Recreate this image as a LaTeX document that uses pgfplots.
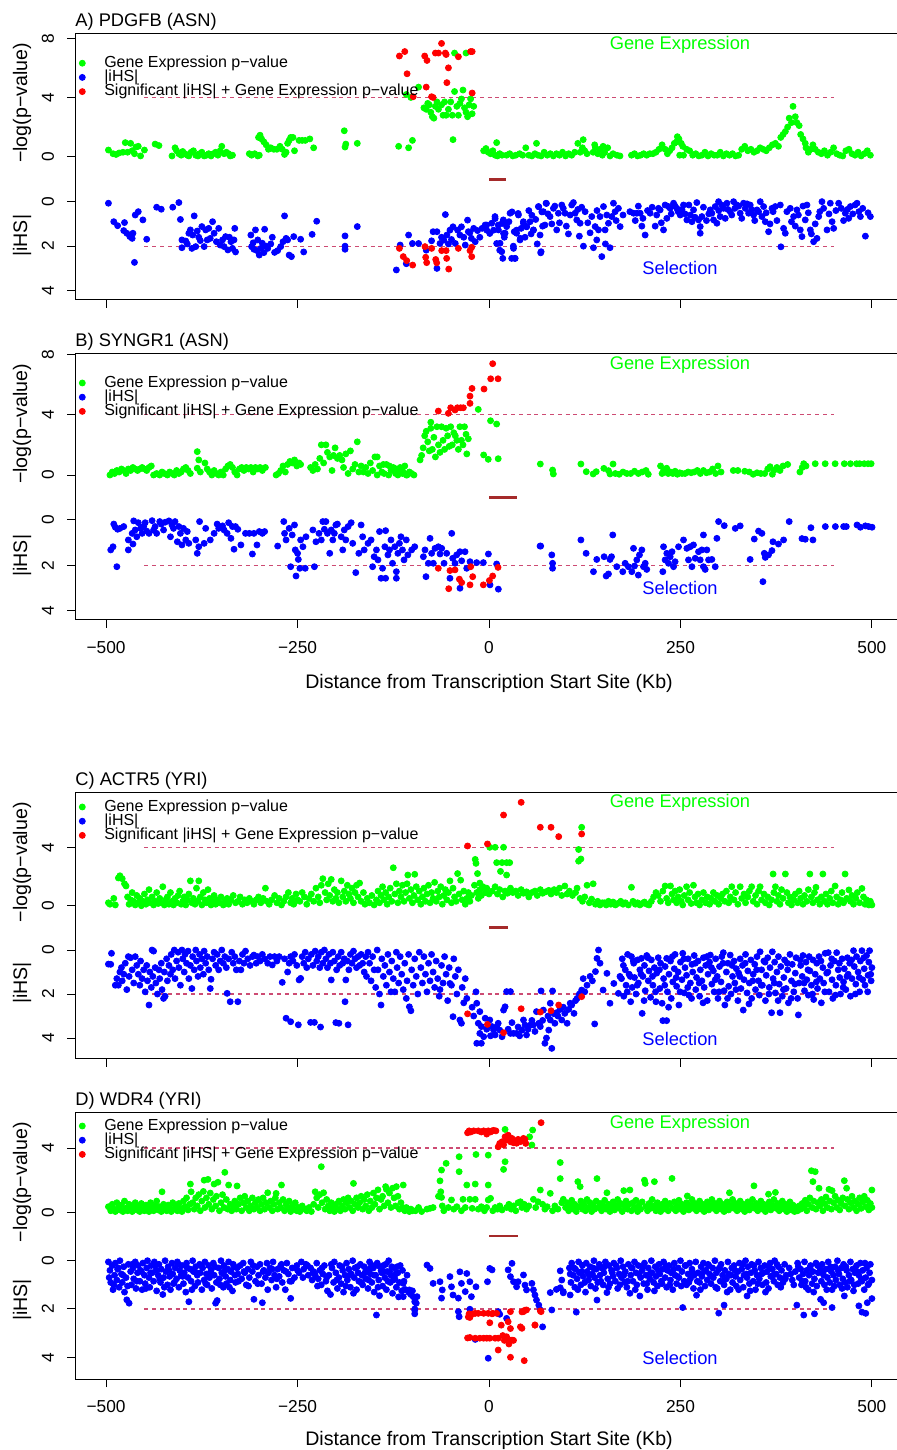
\documentclass[border=0pt]{standalone}
\usepackage{fontspec}
\setmainfont{Liberation Sans}
\usepackage{pgfplots}
\pgfplotsset{compat=1.18}
\definecolor{gexp}{RGB}{0,255,0}
\definecolor{ihs}{RGB}{0,0,255}
\definecolor{sig}{RGB}{255,0,0}
\definecolor{thr}{RGB}{205,75,115}
\definecolor{gene}{RGB}{165,42,42}
\newcommand{\fs}[1]{\fontsize{#1}{#1}\selectfont}
\pgfplotsset{
  panel/.style={scale only axis, width=413.5pt,
    xmin=-540, xmax=540, axis line style={line width=0.5pt, black},
    tick style={line width=0.5pt, black}, major tick length=4pt, tick align=outside,
    xtick={-500,-250,0,250,500}, xtick pos=bottom, ytick pos=left,
    minor tick num=0, clip=true,
    tick label style={font=\fs{8.65pt}},
    xticklabels={},
    yticklabel style={xshift=-6.75pt, rotate=90, anchor=base, inner sep=0pt},
    xticklabel style={anchor=base, inner sep=0pt, yshift=-12.65pt},
    legend image code/.code={\path[draw=none,fill=none] (0pt,-1pt) rectangle (11pt,1pt); \draw[mark repeat=2,mark phase=2,##1] plot coordinates {(0pt,0pt) (5.5pt,0pt) (11pt,0pt)};},
    legend cell align=left,
  },
  up/.style={panel, ytick={0,4,8}, yticklabels={0,4,8}},
  lo/.style={panel, y dir=reverse, ytick={0,2,4}, yticklabels={0,2,4}},
  withx/.style={xticklabels={−500,−250,0,250,500}},
  leg/.style={legend style={at={(rel axis cs:0,1)}, anchor=north west, xshift=-2.1pt, yshift=#1,
    draw=none, fill=none, inner sep=0pt, outer sep=0pt, column sep=5.5pt, row sep=0pt,
    font=\fs{8pt}, nodes={inner sep=0pt, text height=5.7pt, text depth=1.4pt}}},
  gpts/.style={only marks, mark=*, mark size=1.5pt, color=gexp, forget plot},
  bpts/.style={only marks, mark=*, mark size=1.5pt, color=ihs, forget plot},
  rpts/.style={only marks, mark=*, mark size=1.5pt, color=sig, forget plot},
  thrl/.style={color=thr, line width=0.6pt, dash pattern=on 2pt off 1.9pt, forget plot},
  genel/.style={color=gene, line width=1.4pt, forget plot},
}
\newcommand{\legimgs}{%
  \addlegendimage{/tikz/only marks, mark=*, mark size=1.5pt, color=gexp}
  \addlegendentry{Gene Expression p−value}
  \addlegendimage{/tikz/only marks, mark=*, mark size=1.5pt, color=ihs}
  \addlegendentry{|iHS|}
  \addlegendimage{/tikz/only marks, mark=*, mark size=1.5pt, color=sig}
  \addlegendentry{Significant |iHS| + Gene Expression p−value}}
\begin{document}
\begin{tikzpicture}
% ================= PANEL A =================
\begin{axis}[up, at={(37.75pt,575pt)}, anchor=south west, height=133.25pt, ymin=-9.68, ymax=8.32, leg=-11.3pt]
\legimgs
\addplot[thrl] coordinates {(-450,4) (450,4)};
\addplot[genel] coordinates {(0,-1.53) (22,-1.53)};
\addplot[gpts] coordinates {(-497,0.45)(-491,0.2)(-487,0.15)(-483,0.25)(-478,0.3)(-475,0.95)(-472,0.3)(-468,0.9)(-466,0.4)(-463,0.2)(-461,0.65)(-458,0.7)(-455,0.05)(-450,0.45)(-436,0.85)(-431,0.75)(-414,0.05)(-410,0.6)(-408,0.4)(-405,0.2)(-402,0.1)(-400,0.35)(-397,0.2)(-394,0.1)(-392,0.05)(-389,0.3)(-386,0.4)(-383,0.1)(-380,0.05)(-378,0.2)(-375,0.3)(-372,0.05)(-369,0.1)(-366,0.2)(-363,0.05)(-360,0.2)(-357,0.3)(-354,0.1)(-351,0.4)(-349,0.7)(-346,0.2)(-343,0.3)(-340,0.2)(-338,0.05)(-335,0.1)(-313,0.2)(-310,0.1)(-306,0.2)(-302,0.05)(-300,0.1)(-301,1.3)(-299,1.45)(-297,1.2)(-294,1.0)(-291,0.8)(-288,0.5)(-285,0.6)(-281,0.5)(-277,0.5)(-273,0.7)(-270,0.5)(-267,0.15)(-265,0.3)(-263,0.9)(-261,1.1)(-259,1.3)(-256,1.3)(-254,0.4)(-248,1.1)(-244,1.1)(-240,1.1)(-234,1.2)(-229,0.6)(-189,1.75)(-188,0.65)(-187,0.85)(-172,0.9)(-118,0.7)(-105,0.6)(-100,1.1)(-47,1.15)
(-108,4.2)(-102,4.0)(-92,4.7)(-85,3.3)(-82,3.2)(-80,3.6)(-78,3.5)(-76,3.0)(-74,2.7)(-72,2.6)(-70,3.4)(-68,3.7)(-66,3.2)(-62,3.5)(-60,2.8)(-58,3.7)(-56,2.8)(-53,3.2)(-50,3.7)(-48,2.8)(-45,4.4)(-42,3.4)(-40,2.8)(-38,3.6)(-36,3.9)(-34,4.5)(-32,3.3)(-30,3.0)(-28,2.7)(-26,3.5)(-24,3.9)(-22,2.9)(-20,3.4)(-45,7.0)(-30,7.0)
(-7,0.4)(-4,0.55)(-1,0.3)(2,0.2)(5,0.4)(8,0.1)(10,0.95)(11,0.05)(14,0.2)(17,0.1)(23,0.1)(27,0.2)(31,0.05)(35,0.1)(40,0.2)(44,0.1)(48,0.6)(52,0.1)(56,0.05)(60,0.2)(62,0.9)(64,0.1)(68,0.05)(72,0.3)(76,0.1)(80,0.2)(84,0.05)(88,0.2)(92,0.1)(96,0.3)(100,0.05)(104,0.2)(108,0.1)(112,0.3)(116,0.9)(119,0.3)(122,0.6)(123,1.15)(125,0.4)(128,0.2)(136,0.3)(138,0.8)(139,0.6)(142,0.2)(145,0.5)(148,0.1)(149,0.7)(151,0.3)(155,0.6)(158,0.05)(162,0.2)(167,0.1)(171,0.05)(186,0.1)(190,0.2)(194,0.05)(198,0.1)(202,0.2)(206,0.1)(210,0.2)(214,0.2)(218,0.3)(222,0.5)(226,0.8)(230,0.5)(233,0.2)(236,0.4)(239,0.6)(242,0.9)(245,1.0)(246,1.35)(248,1.2)(251,0.9)(253,0.7)(249,0.1)(254,0.1)(258,0.5)(262,0.4)(266,0.1)(270,0.2)(274,0.05)(278,0.1)(282,0.3)(286,0.05)(290,0.2)(294,0.1)(298,0.1)(302,0.3)(306,0.05)(310,0.2)(314,0.1)(318,0.2)(322,0.05)(326,0.1)(330,0.5)(334,0.7)(338,0.4)(342,0.5)(346,0.3)(350,0.4)(354,0.6)(358,0.5)(362,0.4)(366,0.6)(370,0.8)(374,0.9)(378,0.7)(381,1.3)(384,1.5)(387,1.7)(390,2.0)(392,2.6)(395,2.3)(397,3.4)(400,2.7)(402,2.3)(405,2.1)(407,1.5)(410,1.2)(413,0.9)(414,0.6)(417,0.3)(420,0.5)(423,0.8)(426,0.5)(430,0.3)(434,0.2)(438,0.4)(442,0.1)(446,0.3)(450,0.6)(454,0.2)(458,0.1)(462,0.05)(466,0.4)(470,0.5)(474,0.2)(478,0.1)(482,0.3)(486,0.05)(490,0.2)(494,0.4)(498,0.1)};
\addplot[rpts] coordinates {(-117,6.8)(-110,7.1)(-107,5.6)(-99,4.05)(-84,6.8)(-81,6.5)(-82,4.7)(-75,4.05)(-73,4.0)(-70,7.0)(-66,7.0)(-62,7.65)(-57,7.0)(-56,6.9)(-55,5.0)(-53,6.0)(-40,6.75)(-24,7.1)(-22,7.1)(-22,4.3)};
\end{axis}
\begin{axis}[lo, at={(37.75pt,575pt)}, anchor=south west, height=133.25pt, ymin=-7.56, ymax=4.42]
\addplot[thrl] coordinates {(-450,2) (450,2)};
\addplot[bpts] coordinates {(-497,0.07)(-490,0.9)(-485,1.08)(-477,1.3)(-476,0.94)(-473,1.42)(-469,1.57)(-466,1.65)(-465,1.42)(-463,2.73)(-462,0.6)(-458,0.45)(-452,0.82)(-447,1.69)(-434,0.25)(-428,0.34)(-413,0.25)(-405,0.04)(-403,0.8)(-401,1.72)(-401,2.07)(-396,1.77)(-394,1.9)(-392,1.42)(-390,1.27)(-388,2.1)(-387,1.5)(-385,0.64)(-383,2.02)(-381,1.32)(-379,1.6)(-377,1.75)(-375,1.12)(-372,2.02)(-370,1.27)(-368,1.72)(-366,1.2)(-364,1.65)(-361,0.9)(-359,1.42)(-356,1.8)(-353,1.2)(-351,1.95)(-348,1.72)(-346,2.02)(-344,1.57)(-341,2.17)(-339,1.6)(-337,1.8)(-335,2.1)(-333,1.72)(-332,1.2)(-331,2.26)(-311,1.5)(-310,2.02)(-308,1.85)(-307,2.14)(-305,1.27)(-303,2.2)(-302,1.72)(-300,2.4)(-298,2.1)(-296,1.87)(-294,2.29)(-293,1.24)(-291,2.0)(-289,2.1)(-285,1.9)(-283,1.6)(-280,2.28)(-276,2.2)(-272,2.02)(-269,1.8)(-267,0.64)(-265,1.65)(-263,1.72)(-261,2.4)(-258,2.47)(-255,1.57)(-246,1.69)(-242,2.26)(-231,1.47)(-225,0.88)(-188,1.54)(-188,2.0)(-188,2.14)(-172,1.12)
(-121,3.07)(-116,1.95)(-108,2.79)(-105,1.5)(-100,1.88)(-92,1.88)(-82,2.18)(-75,1.76)(-73,1.35)(-68,1.35)(-68,3.0)(-64,1.88)(-62,1.6)(-59,1.73)(-57,0.58)(-55,1.5)(-53,1.9)(-51,1.28)(-49,1.7)(-47,1.13)(-44,1.88)(-41,1.28)(-38,1.5)(-36,1.13)(-33,1.6)(-31,1.95)(-28,0.83)(-27,1.35)(-25,1.4)(-23,1.65)(-20,1.2)(-18,1.8)(-15,1.3)(-12,1.6)(-9,1.2)(-5,1.05)(-3,1.28)(1,1.43)(6,1.28)(8,0.76)(10,1.88)(12,1.05)(14,2.18)(17,0.98)(18,2.55)(19,1.43)(23,0.98)(30,0.46)(32,2.1)(34,2.55)(36,1.28)(38,0.53)(41,1.65)(45,0.98)(49,1.13)(56,0.61)(58,1.28)(65,0.23)(68,2.25)(69,0.46)(73,1.05)(75,0.08)
(-3,1.05)(3.5,0.97)(7.8,0.67)(12.2,1.27)(14.4,1.87)(16.6,2.25)(18.7,0.82)(21,1.42)(23,1.12)(27.5,0.52)(29.6,2.55)(31.8,2.0)(34,2.55)(36,1.42)(38.4,0.6)(40.5,1.72)(44.9,0.9)(49.2,1.12)(53.6,0.9)(58,1.27)(64.5,0.22)(66.7,1.5)(67.5,2.3)(71,0.45)(74.5,0.07)(79.7,0.67)(84.1,0.3)(88.4,1.27)(90.6,0.52)(95,0.15)(99.3,0.52)(103.7,1.45)(108,0.15)(110.2,0.04)(112.4,0.52)(114.6,0.82)(119,0.97)(123.3,2.0)(125.5,0.45)(134.2,0.67)(136.4,2.07)(138.6,1.12)(140.7,1.72)(143,1.27)(145,0.67)(147.3,2.47)(149.5,0.22)(151.6,1.27)(153.8,0.6)(156,0.97)(158,2.07)(160.3,0.67)(162.5,0.07)(164.7,0.45)(171.2,1.12)(188.7,0.52)(193,0.52)(197.4,0.52)(199.6,1.1)(203.9,1.5)(210.4,0.52)(217,1.1)(221.3,0.3)(223.5,0.37)(227.9,1.27)(230,0.15)(232.2,0.75)(234.4,0.22)(236.6,0.3)(241,0.07)(245.3,0.3)(249.7,0.6)(254,0.15)(258.4,0.82)(265,0.9)(267.1,0.37)(271.4,0.04)(273.6,0.82)(275.8,1.12)(275.8,1.42)(278,0.67)(288.9,0.37)(291,0.52)(293.2,0.82)(295.4,0.22)(297.6,0.97)(299.8,0)(301.9,0.67)(306.3,0.3)(308.5,0.75)(310.7,0.07)(315,0.45)(319.4,0)(323.7,0.15)(328,0.52)(332.4,0.07)(334.6,0.3)(339,0.52)(341.1,0.15)(345.5,0.6)(349.9,0.37)(354.2,0)(356.4,0.67)(358.6,0.22)(360.8,0.9)(365.1,1.35)(369.5,0.3)(373.8,0.22)(380.4,0.15)(381.2,2.03)(384.7,1.2)(386.9,1.42)(393.4,0.3)(397.8,0.67)(402.1,0.37)(406.5,1.27)(408.7,1.57)(413,0.82)(415.2,0.15)(419.6,1.27)(423.9,1.8)(428.3,1.65)(430.5,0.67)(434.8,0)(441.4,1.27)(445.7,0.07)(450.1,1.2)(456.6,0.07)(465.3,0.52)(469.7,0.75)(471.9,0.22)(480.6,0.07)(485,0.67)(491.5,1.55)(498,0.67)
(20,1.6)(26,0.9)(33,1.35)(42,1.2)(47,1.6)(52,0.4)(55,1.45)(61,0.8)(63,1.9)(70,1.1)(77,0.55)(82,1.0)(86,0.2)(92,0.95)(97,0.3)(101,1.1)(106,0.6)(116,0.35)(118,1.55)(121,0.25)(129,0.95)(132,1.4)(141,0.4)(152,1.9)(166,0.85)(169,0.3)(175,0.6)(184,0.45)(191,0.85)(195,0.2)(201,0.75)(207,0.4)(213,0.25)(219,0.6)(225,0.95)(238,0.55)(243,0.2)(247,0.45)(252,0.35)(256,0.55)(261,0.15)(263,0.6)(269,0.7)(280,0.25)(284,0.85)(287,0.55)(300,0.4)(304,0.15)(312,0.35)(317,0.6)(321,0.3)(326,0.2)(330,0.75)(337,0.1)(343,0.35)(347,0.85)(352,0.45)(362,0.5)(367,1.0)(371,0.45)(376,0.85)(389,0.45)(395,0.9)(400,1.1)(404,0.6)(410,0.2)(417,0.5)(421,1.45)(426,1.0)(432,0.45)(437,0.3)(444,0.55)(448,0.9)(453,0.4)(460,0.3)(463,0.85)(468,0.35)(475,0.55)(478,0.15)(483,0.45)(488,0.3)(495,0.5)};
\addplot[rpts] coordinates {(-117,2.1)(-112,2.47)(-107.5,2.65)(-99.7,2.85)(-83.6,2.02)(-82.7,2.5)(-81.4,2.74)(-74.9,2.1)(-69.6,2.6)(-68.3,2.75)(-61.8,2.2)(-56,2.2)(-55.3,2.55)(-52.6,3.03)(-40,2.1)(-24.8,2.2)(-22.6,2.05)(-22.6,2.47)};
\end{axis}
% ================= PANEL B =================
\begin{axis}[up, withx, at={(37.75pt,415pt)}, anchor=south west, height=133.35pt, ymin=-9.61, ymax=8.07, leg=-11.3pt]
\legimgs
\addplot[thrl] coordinates {(-450,4) (450,4)};
\addplot[genel] coordinates {(0,-1.5) (36.6,-1.5)};
\addplot[gpts] coordinates {(-495,0.0)(-492,0.2)(-489,0.1)(-486,0.3)(-483,0.2)(-480,0.4)(-477,0.3)(-474,0.1)(-471,0.4)(-468,0.3)(-465,0.5)(-462,0.4)(-459,0.3)(-456,0.4)(-453,0.5)(-450,0.4)(-447,0.3)(-444,0.5)(-441,0.6)(-438,0.0)(-434,0.1)(-430,0.0)(-427,0.2)(-424,0.1)(-420,0.0)(-417,0.2)(-414,0.1)(-411,0.0)(-408,0.3)(-405,0.1)(-402,0.2)(-399,0.4)(-396,0.5)(-393,0.3)(-390,0.1)(-381,1.55)(-379,1.0)(-381,0.45)(-377,0.2)(-371,0.8)(-368,0.4)(-365,0.2)(-362,0.0)(-359,0.3)(-356,0.1)(-353,0.0)(-350,0.2)(-347,0.0)(-344,0.4)(-341,0.6)(-338,0.7)(-335,0.5)(-332,0.2)(-329,0.0)(-326,0.4)(-323,0.5)(-320,0.3)(-317,0.5)(-314,0.4)(-311,0.5)(-308,0.2)(-305,0.5)(-302,0.4)(-299,0.5)(-296,0.3)(-292,0.5)(-278,0.0)(-275,0.1)(-272,0.3)(-269,0.6)(-266,0.2)(-263,0.7)(-260,0.9)(-257,0.8)(-254,1.0)(-251,0.6)(-248,0.8)(-246,0.7)(-233,0.5)(-230,0.3)(-227,0.7)(-224,0.4)(-221,1.1)(-219,2.0)(-216,0.8)(-213,2.0)(-211,1.5)(-208,1.2)(-205,0.3)(-203,1.3)(-201,1.8)(-198,1.1)(-195,1.3)(-192,1.0)(-190,0.5)(-187,1.4)(-184,0.1)(-181,1.6)(-178,0.4)(-175,0.7)(-172,2.2)(-170,0.2)(-167,0.6)(-164,0.2)(-161,0.5)(-158,0.1)(-155,0.8)(-152,0.3)(-149,1.2)(-146,0.0)(-143,0.6)(-140,0.2)(-137,0.1)(-134,0.7)(-131,0.0)(-128,0.3)(-125,0.5)(-122,0.1)(-119,0.0)(-116,0.2)(-113,0.1)(-110,0.6)(-107,0.0)(-104,0.2)(-101,0.1)(-98,0.0)(-146,1.2)(-138,0.7)(-130,0.6)(-121,0.4)(-116,0.5)(-112,0.2)(-108,0.0)
(-90,1.0)(-88,1.3)(-86,1.8)(-84,2.6)(-82,2.9)(-80,2.2)(-78,1.6)(-76,3.1)(-76,3.5)(-74,1.7)(-72,2.5)(-70,1.2)(-68,3.2)(-66,2.0)(-64,1.5)(-62,3.2)(-60,2.3)(-58,1.7)(-56,3.1)(-54,2.6)(-52,1.9)(-50,3.2)(-48,2.0)(-46,2.8)(-44,2.6)(-42,2.3)(-40,1.7)(-38,3.2)(-36,2.3)(-34,2.0)(-32,3.2)(-30,2.7)(-29,1.4)(-27,2.4)(-14,4.35)(2,3.6)(10,3.38)(-7,1.33)(-1,1.04)(12,1.08)
(67,0.73)(83,0.33)(84,0.07)(120,0.73)(127,0.22)(136,0.07)(140,0.22)(150,0.44)(156,0.29)(162,0.73)(158,0.07)(165,0.1)(170,0.05)(175,0.2)(180,0.1)(185,0.1)(190,0.25)(195,0.1)(200,0.2)(205,0.3)(208,0.05)(224,0.6)(226,0.1)(228,0.3)(230,0.2)(232,0.45)(234,0.1)(237,0.2)(240,0.1)(243,0.25)(246,0.05)(249,0.15)(252,0.1)(256,0.1)(260,0.2)(264,0.15)(268,0.2)(272,0.3)(276,0.1)(280,0.3)(284,0.15)(288,0.2)(292,0.4)(296,0.1)(299,0.6)(303,0.2)(319,0.3)(325,0.3)(334,0.25)(340,0.2)(345,0.05)(350,0.15)(355,0.1)(360,0.1)(364,0.4)(367,0.55)(370,0.05)(372,0.3)(376,0.5)(380,0.3)(384,0.6)(390,0.7)(406,0.2)(409,0.5)(411,0.75)(414,0.6)(426,0.75)(439,0.75)(452,0.75)(464,0.75)(472,0.75)(480,0.75)(484,0.75)(490,0.75)(495,0.75)(499,0.75)};
\addplot[rpts] coordinates {(-66.2,4.24)(-53.1,4.09)(-50,4.46)(-44.4,4.31)(-41.3,4.46)(-37,4.46)(-33.5,4.46)(-24.8,4.75)(-24.8,5.23)(-22.2,5.74)(-6.5,5.7)(2.2,6.38)(11.8,6.38)(4.8,7.38)};
\end{axis}
\begin{axis}[lo, at={(37.75pt,415pt)}, anchor=south west, height=133.35pt, ymin=-7.35, ymax=4.41]
\addplot[thrl] coordinates {(-450,2) (450,2)};
\addplot[bpts] coordinates {(-494,1.32)(-491,1.18)(-490,0.18)(-488,0.32)(-486,2.06)(-485,0.41)(-482,0.37)(-477,0.29)(-471,1.32)(-471,0.88)(-466,0.59)(-465,1.06)(-464,0.04)(-462,0.44)(-460,0.74)(-458,0.12)(-455,0.37)(-453,0.59)(-451,0.29)(-449,0.12)(-447,0.49)(-444,0.59)(-440,0.03)(-438,0.44)(-436,0.29)(-434,0.59)(-430,0.07)(-428,0.18)(-425,0.44)(-423,0.1)(-418,0.04)(-416,0.74)(-414,0.22)(-412,0.37)(-410,0.07)(-407,0.96)(-405,0.29)(-403,0.59)(-401,1.1)(-399,0.37)(-396,0.88)(-394,0.51)(-392,1.03)(-383,0.88)(-381,1.47)(-379,1.18)(-378,0.07)(-372,1.03)(-370,0.37)(-364,0.88)(-359,0.59)(-355,0.18)(-353,0.37)(-348,0.26)(-346,0.44)(-342,0.59)(-340,0.12)(-337,0.81)(-335,0.29)(-333,1.29)(-331,0.29)(-328,0.41)(-324,1.1)(-318,0.59)(-313,0.59)(-309,1.5)(-307,0.59)(-303,1.1)(-300,0.51)(-296,0.59)(-293,0.51)
(-276,1.15)(-268,0.07)(-267,0.59)(-265,0.88)(-261,0.37)(-259,2.06)(-257,0.66)(-254,0.22)(-253,1.32)(-252,2.47)(-250,1.47)(-249,1.74)(-247,2.13)(-246,0.88)(-243,1.18)(-240,2.13)(-239,0.74)(-230,0.44)(-228,2.06)(-226,0.96)(-222,0.59)(-219,0.88)(-217,0.07)(-215,0.41)(-213,0.07)(-211,0.59)(-208,1.47)(-206,0.44)(-204,0.88)(-202,0.59)(-200,0.22)(-198,0.18)(-193,0.74)(-191,1.32)(-189,0.44)(-187,0.88)(-184,0.29)(-180,0.12)(-178,1.03)(-174,2.32)(-170,1.47)(-167,0.22)(-165,0.74)(-163,1.32)(-158,1.03)(-154,0.88)(-152,2.06)(-150,1.62)(-147,1.32)(-145,1.76)(-143,0.51)(-141,2.57)(-139,2.13)(-136,1.18)(-135,2.57)(-135,0.47)(-132,1.54)(-130,1.32)(-128,0.88)(-126,1.91)(-123,1.18)(-121,2.28)(-121,2.57)(-119,1.47)(-117,1.03)(-115,0.74)(-113,1.32)(-111,1.76)(-108,0.88)(-106,1.54)(-101,1.32)(-97,1.18)
(-85.7,1.62)(-83.6,1.32)(-82.3,2.5)(-79.2,1.91)(-77,0.81)(-74.9,1.47)(-72.7,1.91)(-70.5,1.25)(-66.2,1.18)(-64,1.5)(-61.8,1.25)(-58.7,1.91)(-55.3,1.47)(-51,2.57)(-48.7,0.59)(-47.4,1.69)(-44.4,1.91)(-42.2,1.54)(-37.9,1.4)(-37.9,3.01)(-35.7,1.8)(-31.3,1.4)(-29.1,2.13)(-24.8,1.84)(-16.1,1.88)(-7.4,1.88)(-0.8,1.5)(1.3,2.86)(10,1.94)(12.2,3.05)(67.5,1.15)
(66.7,1.15)(82,1.54)(83,1.91)(83,2.13)(120,0.88)(126.8,1.47)(136.4,2.28)(140.7,1.74)(150.3,1.62)(153,2.47)(156,2.38)(158,1.74)(160,1.62)(161.6,0.66)(166.9,2.06)(174.7,2.28)(177.8,1.91)(182,2.06)(186.5,2.28)(188.7,1.25)(190,2.03)(193,1.76)(195,2.43)(196.5,1.54)(199.6,1.32)(201.7,2.06)(204,1.91)(206,2.18)(227,2.28)(227.9,1.18)(230,1.76)(232.2,1.47)(234.4,1.91)(236.6,1.62)(239,1.4)(241,2.06)(243,1.84)(247.5,1.18)(254,0.88)(258.4,1.25)(260.5,1.76)(262.7,1.18)(265,2.06)(267,1.1)(269.3,1.69)(273.6,1.4)(275.8,1.76)(278,1.32)(280,0.66)(280,2.06)(282.3,2.18)(284.5,1.32)(286.7,1.76)(291,1.74)(295.4,2.06)(297.6,0.81)(299.8,0.07)(307.2,0.25)(321.6,0.37)(328,0.26)(341,1.74)(346.4,0.84)(352,0.49)(356.4,0.59)(357.7,2.72)(359.5,1.47)(360.8,1.65)(365,1.54)(369.5,1.35)(370.8,0.96)(378,1.06)(384.7,0.88)(392,0.07)(408.7,0.82)(413,0.85)(420.4,0.34)(423,0.88)(439.2,0.29)(452.3,0.29)(463.1,0.29)(466.6,0.29)(480.6,0.22)(485,0.32)(491.5,0.26)(495.8,0.29)(500.2,0.32)};
\addplot[rpts] coordinates {(-66.2,2.13)(-51,2.23)(-44.4,2.2)(-52.6,3.03)(-38.7,2.61)(-35.7,2.76)(-24.8,2.86)(-23.9,2.06)(-21.3,2.5)(-7.4,2.86)(0.5,2.67)(4.8,2.47)(11.8,2.09)};
\end{axis}
% ================= PANEL C =================
\begin{axis}[up, at={(37.75pt,195.65pt)}, anchor=south west, height=133pt, ymin=-10.48, ymax=7.74, leg=-3.6pt]
\legimgs
\addplot[thrl] coordinates {(-450,4) (450,4)};
\addplot[genel] coordinates {(0,-1.51) (25,-1.51)};
\addplot[gpts] coordinates {(-497,0.2)(-495,0.1)(-490,0.5)(-488,0.05)(-484,1.9)(-482,2.05)(-479,1.85)(-476,1.5)(-474,1.35)(-472,0.6)(-470,0.1)(-468,0.4)(-466,0.9)(-464,0.3)(-462,0.05)(-460,0.7)(-458,0.2)(-456,0.5)(-454,0.0)(-452,0.3)(-450,0.8)(-448,0.1)(-446,0.4)(-444,1.1)(-442,0.2)(-440,0.6)(-438,0.05)(-436,0.3)(-434,0.9)(-432,0.15)(-430,0.5)(-428,0.2)(-426,1.3)(-424,0.05)(-422,0.4)(-420,0.6)(-418,0.1)(-416,0.9)(-414,0.3)(-412,0.05)(-410,0.5)(-408,0.2)(-406,0.7)(-404,1.0)(-402,0.1)(-400,0.3)(-398,0.6)(-396,0.05)(-394,0.4)(-392,0.8)(-390,1.7)(-388,0.2)(-386,0.5)(-384,0.1)(-382,1.2)(-380,0.3)(-379,1.7)(-377,0.6)(-375,0.05)(-373,0.9)(-371,0.4)(-369,0.2)(-367,1.1)(-365,0.5)(-363,0.05)(-361,0.3)(-359,0.7)(-357,0.1)(-355,0.4)(-352,0.2)(-350,0.6)(-347,0.05)(-345,0.3)(-342,0.5)(-340,0.1)(-337,0.4)(-334,0.7)(-331,0.2)(-328,0.3)(-325,0.6)(-322,0.1)(-319,0.4)(-316,0.2)(-313,0.5)(-310,0.3)(-307,0.1)(-304,0.4)(-301,0.6)(-298,0.2)(-295,0.5)(-292,1.2)(-290,0.3)(-287,0.1)(-284,0.4)
(-280,0.7)(-277,0.2)(-274,0.5)(-271,0.05)(-268,0.3)(-265,0.6)(-262,0.9)(-259,0.2)(-257,0.5)(-255,0.1)(-252,0.8)(-250,0.4)(-247,0.3)(-244,0.9)(-241,0.6)(-238,0.1)(-235,0.5)(-232,0.8)(-229,0.3)(-226,1.2)(-223,0.6)(-221,0.2)(-219,1.4)(-217,1.85)(-214,0.9)(-212,0.4)(-210,1.5)(-208,0.7)(-206,1.8)(-204,0.3)(-202,1.1)(-200,0.5)(-198,0.9)(-196,0.2)(-193,1.7)(-191,0.6)(-189,1.0)(-187,0.3)(-185,1.4)(-183,0.8)(-181,0.5)(-179,1.2)(-177,0.2)(-175,0.9)(-173,1.4)(-171,0.6)(-169,1.55)(-167,0.3)(-164,0.9)(-162,0.1)(-159,0.5)(-156,0.2)(-153,0.7)(-150,0.05)(-147,0.4)(-145,1.0)(-143,0.2)(-141,0.7)(-139,1.3)(-137,0.4)(-135,0.9)(-133,0.1)(-131,0.6)(-129,1.2)(-127,0.3)(-125,2.6)(-123,0.8)(-121,1.5)(-119,0.2)(-117,1.0)(-115,0.6)(-113,1.4)(-111,0.3)(-109,0.9)(-107,1.5)(-106,2.1)(-104,0.5)(-102,1.1)(-100,0.2)(-98,0.7)(-97,2.15)(-95,1.3)(-93,0.4)(-91,1.0)(-89,0.1)(-87,0.6)(-85,1.2)(-83,0.3)(-81,0.8)(-79,1.4)(-77,0.2)(-75,0.9)(-73,0.5)(-71,1.6)(-69,0.3)(-67,1.0)(-65,0.6)(-63,1.3)(-61,0.1)(-59,0.7)(-57,1.1)(-55,0.4)(-53,0.9)(-51,1.7)(-49,0.2)(-47,1.2)(-45,0.6)(-43,0.3)(-41,2.2)(-39,0.8)(-37,1.75)(-35,0.4)(-33,1.0)(-31,0.1)(-29,0.5)(-27,0.9)(-25,0.3)(-23,0.7)
(-18,3.17)(-17,2.9)(-15,2.2)(-19,1.4)(-16,0.9)(-14,0.5)(-12,1.1)(-12,1.55)(-10,0.7)(-8,1.3)(-5,0.9)(-3,1.2)(0,0.8)(1,4.0)(8,4.0)(19,4.0)(10,2.95)(17,2.95)(23,2.95)(27,2.95)(15,2.35)(23,2.1)(4,1.0)(8,1.3)(11,0.8)(14,1.1)(18,0.6)(21,1.0)(24,0.85)(28,1.2)(31,0.9)(35,1.0)(38,0.7)(42,1.1)(45,0.85)(49,0.95)(52,0.6)(56,0.9)(60,1.0)(63,0.7)(67,1.1)(70,0.85)(74,0.95)(78,1.05)(81,0.8)(85,1.1)(88,0.9)(92,1.2)(95,0.7)(99,1.35)(102,0.8)(105,1.0)(109,0.7)(113,0.9)(115,1.2)(117,3.85)(117,3.05)(120,3.2)(121,5.37)(119,0.5)(122,0.3)(125,0.6)(128,1.4)(131,0.2)(134,0.45)(136,1.5)(139,0.1)(142,0.3)(145,0.05)(148,0.2)
(151,0.2)(153,0.05)(156,0.3)(159,0.1)(162,0.25)(165,0.05)(168,0.15)(172,0.3)(175,0.1)(178,0.2)(182,0.05)(186,1.26)(188,0.3)(191,0.1)(194,0.2)(197,0.05)(200,0.15)(203,0.25)(206,0.1)(209,0.05)(212,0.3)(215,0.6)(218,0.9)(221,0.7)(224,0.3)(227,1.0)(230,1.35)(232,0.5)(234,0.2)(237,1.35)(239,0.8)(241,0.4)(243,1.0)(245,0.2)(247,0.6)(249,1.1)(251,0.3)(253,0.05)(255,0.7)(258,1.3)(260,0.4)(262,0.9)(264,0.15)(267,1.4)(269,0.6)(271,0.2)(273,0.8)(275,0.05)(278,0.4)(280,0.9)(283,0.2)(285,0.6)(288,0.1)(290,0.5)(293,0.9)(295,0.3)(298,0.7)(300,0.1)(303,0.5)(305,0.8)(308,0.3)(310,1.0)(313,0.2)(315,0.6)(317,1.3)(320,0.4)(322,0.9)(325,0.1)(328,1.3)(330,0.5)(333,0.8)(335,0.2)(338,0.6)(340,1.0)(343,1.3)(345,0.3)(348,0.7)(350,0.1)(352,1.0)(354,1.3)(356,0.4)(359,0.8)(361,0.2)(364,0.6)(366,0.05)(369,0.4)(371,2.17)(372,0.9)(374,1.3)(376,0.3)(378,0.7)(380,0.1)(382,1.1)(384,0.5)(387,2.17)(389,0.9)(391,0.2)(393,0.6)(395,0.05)(398,0.4)(400,0.8)(403,0.2)(405,1.0)(407,0.5)(410,0.1)(412,0.7)(415,0.3)(417,1.1)(419,2.17)(421,0.6)(423,0.2)(425,0.9)(427,1.26)(429,0.4)(432,0.1)(434,0.6)(436,2.17)(438,0.3)(440,0.8)(442,0.1)(445,0.5)(447,1.0)(449,0.2)(452,1.35)(454,0.6)(456,0.1)(459,0.4)(461,0.9)(463,0.2)(465,2.17)(467,0.5)(470,1.08)(472,0.3)(474,0.7)(476,0.1)(479,0.5)(481,0.9)(484,0.2)(487,1.18)(489,0.6)(491,0.1)(493,0.4)(496,0.05)(498,0.3)(500,0.05)};
\addplot[rpts] coordinates {(-28,4.09)(-2,4.23)(19,6.21)(42,7.08)(67,5.37)(81,5.37)(91,4.73)(121,4.91)};
\end{axis}
\begin{axis}[lo, at={(37.75pt,195.65pt)}, anchor=south west, height=133pt, ymin=-7.15, ymax=4.94]
\addplot[thrl] coordinates {(-450,2) (450,2)};
\addplot[bpts] coordinates {(-497,0.64)(-494,0.65)(-493,0.15)(-488,1.6)(-486,1.3)(-484,1.6)(-482,1.0)(-480,0.8)(-479,1.4)(-477,1.1)(-475,0.6)(-473,1.8)(-471,0.3)(-470,1.2)(-468,0.35)(-466,0.9)(-464,1.5)(-462,0.3)(-460,0.7)(-458,1.1)(-456,1.6)(-455,0.5)(-453,1.3)(-451,0.9)(-449,1.9)(-447,0.7)(-446,1.4)(-444,2.5)(-443,1.0)(-441,1.7)(-440,0.0)(-439,1.2)(-438,0.05)(-436,0.8)(-435,1.5)(-433,2.0)(-431,0.9)(-430,1.3)(-428,0.6)(-427,1.8)(-425,2.2)(-424,1.0)(-423,2.1)(-421,0.4)(-420,1.4)(-418,0.7)(-416,1.1)(-415,0.2)(-413,0.9)(-411,0.0)(-410,1.3)(-408,0.5)(-406,0.1)(-405,0.8)(-403,1.6)(-401,0.0)(-400,0.4)(-398,1.0)(-397,0.2)(-395,0.6)(-393,0.05)(-392,1.3)(-390,0.7)(-388,1.75)(-387,0.3)(-385,0.9)(-383,0.0)(-382,0.5)(-380,1.2)(-378,0.2)(-377,0.8)(-375,0.4)(-373,1.1)(-372,0.05)(-370,0.6)(-368,0.3)(-366,0.9)(-364,1.75)(-363,1.33)(-361,0.4)(-359,0.1)(-357,0.7)(-355,0.2)(-353,0.9)(-351,0.5)(-349,0.0)(-347,0.6)(-345,0.3)(-343,0.8)(-342,1.97)(-340,0.4)(-338,2.35)(-336,0.1)(-334,0.6)(-332,0.3)(-330,0.9)(-328,2.35)(-326,0.5)(-324,0.9)(-322,0.2)(-320,0.6)(-318,0.05)(-315,0.4)(-312,0.7)(-309,0.3)(-307,0.23)(-304,0.6)(-302,0.3)(-299,0.5)(-296,0.2)(-293,0.4)(-289,0.6)(-286,0.3)(-283,0.68)(-280,0.3)(-277,0.5)(-274,0.3)(-270,1.47)(-267,0.4)(-265,3.1)(-263,1.0)(-261,0.6)(-259,0.3)(-259,3.26)(-256,0.5)(-254,0.2)(-251,0.7)(-249,3.4)(-248,1.36)(-246,1.29)(-244,0.3)(-242,0.6)(-240,0.1)(-238,0.8)(-236,0.4)(-233,3.29)(-232,0.2)(-230,0.7)(-228,3.29)(-227,0.05)(-225,0.5)(-223,0.3)(-221,0.8)(-220,3.5)(-219,0.1)(-217,0.6)(-215,0.0)(-213,0.4)(-211,0.8)(-209,0.2)(-207,0.6)(-206,1.36)(-204,0.1)(-202,0.5)(-200,3.3)(-199,0.9)(-197,0.3)(-196,3.33)(-195,0.7)(-193,0.1)(-191,0.6)(-189,0.4)(-188,2.35)(-187,1.36)(-185,0.5)(-184,3.4)(-183,0.9)(-181,0.2)(-179,0.6)(-177,0.05)(-175,0.4)(-173,0.8)(-171,0.3)(-169,0.7)(-167,0.2)(-165,0.6)(-163,1.0)(-161,0.3)
(-160,1.2)(-158,0.1)(-156,0.6)(-154,1.4)(-152,0.3)(-150,0.9)(-148,1.7)(-146,0.0)(-145,0.9)(-143,2.0)(-141,2.5)(-140,0.4)(-138,1.2)(-136,0.7)(-134,1.6)(-132,0.2)(-130,1.0)(-128,1.9)(-127,0.5)(-125,1.3)(-123,1.9)(-121,0.1)(-120,0.8)(-118,1.5)(-116,0.3)(-114,1.1)(-112,1.8)(-110,0.6)(-108,2.2)(-107,1.4)(-105,0.2)(-104,2.58)(-102,2.76)(-101,0.9)(-99,1.6)(-97,0.4)(-95,1.2)(-93,2.0)(-91,0.1)(-89,0.8)(-87,1.5)(-85,0.3)(-83,1.1)(-81,1.9)(-79,0.6)(-77,1.4)(-75,0.2)(-73,1.0)(-71,1.7)(-69,0.5)(-67,1.3)(-65,2.1)(-64,1.8)(-62,0.7)(-60,1.5)(-58,0.3)(-56,1.1)(-54,2.3)(-52,0.8)(-51,1.52)(-49,1.6)(-47,3.03)(-46,0.4)(-44,1.2)(-42,2.0)(-40,0.9)(-38,3.18)(-36,3.33)(-35,1.7)(-33,2.4)(-31,1.3)(-29,2.2)
(-17,1.9)(-16,2.42)(-12,2.8)(-14,3.33)(-10,3.48)(-12,3.79)(-7,3.94)(-16,4.24)(-10,4.24)(-22,2.6)(-20,3.0)(-5,3.1)(-3,3.6)(1,3.18)(2,3.9)(4,3.48)(6,3.64)(8,3.86)(10,3.5)(12,3.33)(14,3.64)(17,3.94)(19,2.73)(21,2.58)(23,1.89)(25,3.6)(28,1.89)(28,3.79)(30,3.3)(32,3.79)(36,3.79)(38,3.5)(40,3.9)(43,3.64)(45,3.18)(47,3.41)(49,3.86)(51,3.6)(54,3.41)(56,3.2)(58,3.41)(60,3.7)(62,2.8)(65,3.33)(67,3.48)(68,1.86)(70,3.2)(71,2.73)(73,4.24)(75,4.0)(77,3.0)(78,3.64)(80,3.18)(80,2.42)(82,4.47)(83,1.86)(85,2.9)(86,3.33)(88,2.85)(90,3.0)(93,2.7)(95,3.18)(97,2.6)(99,2.88)(102,3.33)(104,2.7)(106,2.42)(108,2.5)(111,2.88)(113,2.3)(115,2.2)(118,2.0)(121,1.82)(123,1.3)(125,1.9)(128,1.6)(132,1.2)(135,1.4)(138,3.36)(139,0.98)(141,0.38)(143,0.0)(145,0.6)(149,1.82)(154,1.06)(158,2.42)(163,1.52)(169,1.97)(171,1.2)
(173,1.3)(174,0.4)(176,2.1)(178,0.9)(179,1.6)(181,0.2)(183,1.1)(185,2.35)(186,0.3)(187,1.7)(189,0.6)(190,1.25)(192,2.0)(194,0.45)(195,1.5)(197,0.9)(199,0.38)(200,2.88)(201,1.2)(203,0.7)(204,1.85)(206,0.25)(208,1.4)(209,0.95)(211,2.15)(212,0.45)(214,1.6)(216,0.8)(218,2.35)(219,1.05)(221,0.35)(223,1.75)(224,0.6)(226,2.42)(227,3.21)(228,1.3)(230,0.75)(232,0.38)(232,3.21)(233,1.9)(235,1.1)(237,0.5)(238,2.2)(240,1.45)(242,0.85)(243,0.2)(245,1.65)(247,1.0)(248,2.5)(250,0.55)(252,1.35)(253,0.15)(255,1.95)(256,0.8)(258,1.15)(260,0.4)(261,2.05)(263,1.5)(265,0.65)(266,1.0)(268,0.25)(270,1.8)(271,1.25)(273,0.5)(275,2.1)(276,0.9)(278,1.4)(280,0.35)(281,1.7)(283,0.7)(285,2.3)(286,1.1)(288,0.55)(289,0.23)(291,1.55)(293,0.95)(294,1.9)(296,0.4)(298,1.2)(299,2.2)(301,0.75)(303,1.45)(304,0.3)(306,0.12)(307,1.85)(308,2.5)(310,1.0)(312,0.6)(313,1.65)(315,0.23)(316,2.0)(318,1.2)(320,0.5)(321,1.5)(323,0.85)(325,2.3)(326,1.05)(328,0.4)(329,1.75)(331,0.7)(332,2.73)(333,1.35)(335,0.2)(337,1.95)(338,0.95)(340,1.5)(342,0.45)(343,2.2)(345,1.1)(347,0.65)(348,1.8)(350,0.3)(352,1.4)(353,2.05)(354,0.08)(356,0.9)(357,1.6)(359,0.5)(361,2.3)(362,1.15)(364,0.35)(366,1.7)(367,0.8)(369,2.85)(370,0.08)(371,1.3)(373,0.55)(374,1.95)(376,1.0)(378,0.3)(379,1.55)(380,2.85)(381,0.75)(383,2.1)(385,1.25)(386,0.45)(388,1.75)(390,0.9)(391,2.4)(393,0.2)(395,1.4)(396,0.65)(398,1.9)(400,1.05)(401,0.35)(403,2.2)(404,2.95)(405,1.5)(407,0.7)(409,1.2)(410,0.25)(412,1.85)(414,0.55)(415,1.35)(417,2.05)(418,0.3)(419,0.95)(421,1.6)(423,0.45)(424,2.25)(426,1.1)(428,0.6)(429,1.75)(431,0.3)(432,1.3)(434,2.4)(436,0.8)(437,1.5)(439,0.15)(441,1.05)(443,0.12)(444,1.9)(446,0.7)(448,1.35)(449,2.2)(451,0.5)(453,1.6)(454,0.12)(456,0.9)(458,1.25)(459,2.0)(461,0.4)(463,1.45)(464,0.85)(466,1.8)(468,0.35)(469,1.1)(471,0.6)(472,2.1)(474,1.3)(476,0.03)(477,0.75)(479,1.55)(480,0.3)(482,1.0)(484,1.9)(485,0.5)(487,0.03)(488,1.35)(490,0.85)(491,1.6)(493,0.25)(495,1.15)(496,0.55)(497,0.03)(499,1.4)(500,0.8)
(175.5,0.7)(180.5,1.9)(184.5,1.2)(188.5,0.5)(193.5,1.6)(198.5,1.1)(202.5,2.3)(207.5,0.35)(213.5,1.2)(217.5,1.9)(222.5,0.9)(229.5,1.6)(234.5,2.6)(239.5,0.3)(244.5,1.25)(249.5,1.9)(254.5,0.4)(259.5,1.7)(264.5,2.2)(269.5,0.6)(274.5,1.5)(279.5,2.4)(284.5,0.3)(290.5,0.8)(295.5,1.35)(300.5,1.9)(305.5,0.6)(311.5,2.2)(317.5,0.7)(322.5,1.8)(327.5,1.2)(334.5,0.6)(339.5,2.45)(344.5,1.4)(349.5,0.9)(355.5,1.6)(360.5,0.55)(365.5,2.0)(372.5,1.5)(377.5,2.3)(384.5,1.8)(389.5,0.6)(394.5,2.2)(399.5,1.55)(406.5,0.45)(411.5,1.5)(416.5,0.9)(422.5,2.0)(427.5,1.45)(433.5,0.5)(438.5,1.9)(442.5,1.0)(447.5,0.4)(452.5,2.05)(457.5,0.6)(462.5,1.7)(467.5,1.2)(473.5,0.45)(478.5,2.0)(483.5,1.25)(489.5,0.35)(494.5,1.9)(498.5,1.1)};
\addplot[rpts] coordinates {(-28,2.9)(-2,3.38)(19,3.76)(42,2.67)(67,2.82)(81,2.76)(91,2.5)(121,2.12)};
\end{axis}
% ================= PANEL D =================
\begin{axis}[up, withx, at={(37.75pt,35.5pt)}, anchor=south west, height=133.15pt, ymin=-10.37, ymax=6.20, leg=-3.1pt]
\legimgs
\addplot[thrl] coordinates {(-450,4) (450,4)};
\addplot[genel] coordinates {(0,-1.47) (37.5,-1.47)};
\addplot[gpts] coordinates {(-497,0.35)(-494,0.1)(-492,0.5)(-490,0.2)(-488,0.05)(-486,0.6)(-484,0.3)(-482,0.15)(-480,0.45)(-478,0.05)(-476,0.7)(-474,0.25)(-472,0.1)(-470,0.5)(-468,0.3)(-466,0.05)(-464,0.4)(-462,0.6)(-460,0.15)(-458,0.35)(-456,0.05)(-454,0.55)(-452,0.2)(-450,0.1)(-448,0.45)(-446,0.3)(-444,0.05)(-442,0.6)(-440,0.25)(-438,0.1)(-436,0.4)(-434,0.7)(-432,0.15)(-430,0.35)(-428,0.05)(-427,1.28)(-425,0.5)(-423,0.2)(-421,0.1)(-419,0.45)(-417,0.3)(-415,0.05)(-413,0.6)(-411,0.2)(-409,0.4)(-407,0.1)(-405,0.55)(-403,0.25)(-401,0.05)(-399,0.7)(-397,0.35)(-395,0.9)(-393,0.15)(-391,0.5)(-390,1.76)(-389,1.28)(-387,0.6)(-385,0.2)(-383,0.9)(-381,0.4)(-379,1.1)(-377,0.1)(-375,0.7)(-373,1.3)(-372,2.0)(-371,0.3)(-369,0.9)(-367,2.05)(-366,0.5)(-364,1.2)(-362,0.2)(-360,0.8)(-359,1.76)(-357,0.4)(-356,1.0)(-354,1.87)(-352,0.1)(-350,0.6)(-348,1.1)(-346,0.3)(-345,2.49)(-343,0.8)(-341,0.2)(-340,1.7)(-338,0.5)(-336,0.1)(-334,0.4)(-332,0.7)(-330,0.2)(-329,1.64)(-327,0.5)(-325,0.9)(-323,0.1)(-321,0.6)(-319,1.0)(-317,0.3)(-315,0.7)(-313,0.1)(-311,0.4)(-309,0.9)(-307,0.2)(-305,0.6)(-303,0.3)(-301,0.8)(-299,0.1)(-297,0.5)(-295,0.9)(-293,0.2)(-291,0.6)(-289,1.22)(-287,0.3)(-285,0.7)(-283,0.1)(-281,0.5)(-279,0.9)(-278,1.18)(-276,0.2)(-274,0.6)(-272,0.3)(-271,1.7)(-269,0.8)(-267,0.1)(-265,0.5)(-263,0.3)(-261,0.7)(-259,0.05)(-257,0.4)(-255,0.2)(-253,0.6)(-251,0.1)(-249,0.3)(-247,0.05)(-244,0.4)(-241,0.2)(-238,0.1)(-235,0.3)(-232,0.05)(-229,0.5)(-227,1.28)(-225,0.9)(-223,0.3)(-221,1.1)(-219,2.84)(-218,0.6)(-216,1.22)(-214,0.2)(-212,0.8)(-210,0.4)(-208,0.1)(-206,0.6)(-204,0.3)(-202,0.05)(-200,0.5)(-198,0.2)(-196,0.7)(-194,0.1)(-192,0.4)(-190,0.8)(-188,0.2)(-186,0.6)(-184,0.9)(-182,0.3)(-180,0.7)(-178,0.1)(-177,1.8)(-175,0.5)(-173,0.9)(-171,0.3)(-169,0.6)(-167,1.0)(-165,0.2)(-163,0.8)(-161,0.4)(-159,1.1)(-157,0.1)(-155,0.7)(-153,0.3)(-151,1.2)(-149,0.5)(-147,0.9)(-145,1.4)(-143,0.2)(-141,0.8)(-139,1.0)(-137,0.4)(-135,1.6)(-134,1.43)(-132,0.6)(-130,1.2)(-128,0.3)(-126,1.5)(-124,0.9)(-122,0.4)(-121,1.6)(-119,1.0)(-117,0.2)(-115,0.6)(-113,0.3)(-112,1.7)(-110,0.1)(-108,0.3)(-106,0.2)(-104,0.05)(-102,0.2)(-100,0.1)
(-96,0.1)(-92,0.3)(-88,0.05)(-81,0.2)(-77,0.25)(-73,0.3)(-66,1.0)(-64,1.96)(-63,1.28)(-62,0.93)(-62,2.63)(-61,0.4)(-59,0.1)(-56,3.05)(-53,0.3)(-49,0.77)(-46,0.2)(-42,0.35)(-39,3.46)(-39,2.53)(-36,0.1)(-34,0.81)(-31,0.3)(-29,1.7)(-25,0.81)(-22,0.25)(-18,0.81)(-18,1.76)(-17,3.6)(-14,0.2)(-10,0.35)(-6,0.1)(-3,0.3)(-1,0.77)(-1,1.7)(-1,3.56)(2,0.87)(5,0.1)(8,0.3)(11,0.2)(14,0.4)(17,0.15)(19,2.67)(21,3.15)(21,5.16)(23,0.3)(26,0.5)(29,0.2)(32,0.4)(35,0.1)(38,0.6)(41,0.66)(43,0.3)(46,0.5)(49,0.2)(52,0.4)(53,4.7)(56,4.19)(57,5.12)(58,0.81)(61,0.3)(64,0.66)(67,1.39)(70,0.5)(73,0.2)(76,0.35)(80,1.18)(83,0.1)(86,0.4)(90,0.2)(93,3.1)(93,2.1)(95,0.6)(97,0.81)
(100,0.3)(102,0.6)(104,0.1)(106,0.4)(108,0.75)(110,0.2)(112,0.5)(114,0.05)(116,1.91)(117,0.35)(119,1.6)(120,0.7)(122,0.2)(124,0.5)(126,0.1)(128,0.8)(130,0.3)(132,0.6)(134,0.05)(136,0.45)(138,0.2)(140,0.7)(141,2.1)(143,0.3)(145,0.55)(147,0.1)(149,0.4)(151,0.75)(153,0.2)(154,1.22)(156,0.5)(158,0.05)(160,0.35)(162,0.65)(164,0.15)(166,0.45)(168,0.8)(170,0.25)(172,0.55)(174,0.05)(176,1.35)(177,0.4)(179,0.7)(181,0.2)(183,0.5)(184,1.39)(186,0.1)(188,0.6)(190,0.3)(192,0.75)(194,0.05)(196,0.45)(198,0.2)(200,0.65)(203,2.0)(204,1.8)(205,0.35)(207,0.1)(209,0.55)(211,0.25)(213,0.8)(215,0.4)(216,1.91)(218,0.1)(220,0.6)(222,0.3)(224,0.05)(226,0.5)(228,0.2)(230,0.7)(232,0.35)(234,0.1)(236,0.55)(239,2.11)(240,0.25)(242,0.65)(244,0.1)(246,0.4)(248,0.75)(250,0.2)(252,0.5)(254,0.05)(256,0.35)(258,0.6)(259,1.02)(261,0.15)(263,0.45)(265,0.8)(267,0.25)(269,0.55)(271,0.1)(273,0.4)(275,0.7)(277,0.2)(279,0.5)(281,0.05)(283,0.35)(285,0.65)(287,0.15)(289,0.45)(291,0.8)(293,0.25)(295,0.55)(297,0.1)(299,0.4)(301,0.7)(303,0.2)(305,0.5)(307,0.05)(309,0.35)(311,0.65)(313,0.15)(314,1.22)(316,0.45)(318,0.8)(320,0.25)(322,0.55)(324,0.1)(326,0.4)(328,0.7)(330,0.2)(332,0.5)(334,0.05)(336,0.35)(338,0.65)(340,0.15)(342,0.45)(344,0.8)(346,1.65)(347,0.25)(349,0.55)(351,0.1)(353,0.4)(355,0.7)(357,0.2)(359,0.5)(361,0.05)(363,0.35)(365,1.13)(366,0.65)(368,0.15)(370,0.45)(372,0.8)(374,1.24)(375,0.25)(377,0.55)(379,0.1)(381,0.4)(383,0.7)(385,0.2)(387,0.5)(389,0.05)(391,0.35)(393,0.65)(395,0.15)(397,0.45)(399,0.05)(401,0.3)(403,0.1)(405,0.4)(407,0.2)(409,0.55)(411,0.3)(413,0.75)(415,0.1)(417,0.5)(419,0.9)(421,2.59)(422,0.3)(423,1.91)(424,0.7)(426,2.53)(427,0.2)(429,0.6)(431,1.5)(432,0.4)(434,0.8)(436,0.1)(438,0.55)(440,0.95)(442,0.3)(444,1.43)(445,0.7)(447,0.2)(448,1.35)(450,0.6)(452,1.0)(454,0.3)(456,0.75)(458,0.15)(460,0.55)(462,0.9)(464,1.97)(465,0.4)(467,1.5)(468,0.8)(470,0.2)(472,0.6)(474,1.0)(476,0.3)(478,0.7)(480,0.1)(482,0.5)(484,0.9)(486,0.25)(488,0.65)(490,1.0)(492,0.35)(494,0.75)(496,0.15)(498,0.55)(500,1.39)(500,0.3)};
\addplot[rpts] coordinates {(-28,4.95)(-26,5.07)(-24,5.0)(-20,5.07)(-14,5.07)(-10,5.0)(-7,5.07)(-3,4.87)(-1,5.07)(2,5.0)(4,5.07)(6,5.1)(9,5.07)(12,4.08)(14,4.29)(17,4.39)(19,4.2)(21,4.7)(23,4.5)(25,4.8)(28,4.39)(30,4.6)(32,4.33)(34,4.45)(36,4.3)(38,4.54)(41,4.4)(43,4.45)(45,4.6)(47,4.54)(48,4.29)(68,5.58)};
\end{axis}
\begin{axis}[lo, at={(37.75pt,35.5pt)}, anchor=south west, height=133.15pt, ymin=-6.13, ymax=4.90]
\addplot[thrl] coordinates {(-450,2) (450,2)};
\addplot[bpts] coordinates {(-497,0.05)(-495,0.4)(-494,0.9)(-492,0.2)(-491,1.2)(-489,0.6)(-488,0.1)(-486,0.8)(-485,0.35)(-483,1.1)(-482,0.0)(-480,0.55)(-479,0.9)(-477,0.25)(-476,1.3)(-474,0.7)(-473,1.62)(-471,0.15)(-470,1.76)(-468,0.45)(-467,1.0)(-465,0.3)(-464,0.75)(-462,0.05)(-461,1.15)(-459,0.5)(-458,0.2)(-456,0.85)(-455,0.4)(-453,1.2)(-452,0.1)(-450,0.6)(-449,0.95)(-447,0.3)(-446,0.0)(-444,0.7)(-443,1.1)(-441,0.2)(-440,0.5)(-438,0.85)(-437,0.05)(-435,0.4)(-434,1.25)(-432,0.6)(-431,0.15)(-429,0.9)(-428,0.35)(-426,1.4)(-425,0.7)(-423,0.0)(-422,0.45)(-420,1.0)(-419,0.25)(-417,0.65)(-416,1.2)(-414,0.1)(-413,0.55)(-411,0.9)(-410,0.3)(-408,0.75)(-407,0.05)(-405,1.1)(-404,0.4)(-402,0.6)(-401,0.2)(-399,0.95)(-398,0.5)(-396,1.3)(-395,0.1)(-393,0.7)(-392,1.7)(-390,0.35)(-389,0.85)(-387,0.0)(-386,0.45)(-384,1.05)(-383,0.25)(-381,0.6)(-380,0.9)(-378,0.15)(-377,0.5)(-375,1.2)(-374,0.3)(-372,0.8)(-371,0.05)(-369,0.55)(-368,1.0)(-366,0.2)(-365,0.7)(-363,0.4)(-362,1.15)(-360,0.1)(-359,0.6)(-357,1.76)(-356,0.9)(-355,1.65)(-353,0.3)(-352,0.75)(-350,0.0)(-349,0.5)(-347,1.1)(-346,0.2)(-344,0.65)(-343,0.95)(-341,0.35)(-340,0.05)(-338,0.8)(-337,0.45)(-335,1.25)(-334,0.15)(-332,0.6)(-331,0.9)(-329,0.3)(-328,0.55)(-325,0.2)(-323,0.75)(-321,0.1)(-319,0.5)(-317,1.0)(-315,0.35)(-313,0.7)(-311,0.05)(-309,0.45)(-307,1.6)(-305,0.85)(-303,0.25)(-301,0.6)(-299,0.15)(-297,0.95)(-296,1.74)(-294,0.4)(-292,0.7)(-290,0.1)(-288,0.5)(-286,0.3)(-284,0.8)(-282,0.05)(-280,0.6)(-278,1.1)(-276,0.35)(-274,0.65)(-272,0.2)(-270,0.9)(-268,0.4)(-266,1.2)(-264,0.1)(-262,0.55)(-260,0.85)(-259,1.56)(-257,0.3)(-254,0.7)(-251,0.2)(-248,0.5)(-245,0.05)(-242,0.35)(-239,0.15)(-236,0.6)(-233,0.3)(-231,0.8)(-229,0.45)(-227,0.6)(-225,0.1)(-223,0.75)(-221,0.4)(-219,1.0)(-217,0.55)(-215,0.2)(-213,0.85)(-211,1.25)(-209,0.6)(-207,1.4)(-205,0.3)(-203,0.9)(-202,0.05)(-200,0.5)(-198,1.15)(-196,0.7)(-195,0.2)(-193,0.95)(-191,0.4)(-190,1.3)(-188,0.6)(-186,0.1)(-185,0.8)(-183,0.35)(-181,1.1)(-180,0.55)(-178,0.0)(-176,0.7)(-175,0.3)(-173,1.2)(-171,0.5)(-170,0.85)(-168,0.15)(-166,0.6)(-165,1.0)(-163,0.25)(-161,0.75)(-160,0.4)(-158,1.15)(-156,0.05)(-155,0.55)(-153,0.9)(-151,0.3)(-150,1.3)(-148,0.6)(-147,2.25)(-146,0.1)(-144,0.8)(-143,1.45)(-141,0.4)(-139,1.05)(-138,0.2)(-136,0.7)(-134,1.2)(-133,0.45)(-131,0.0)(-129,0.9)(-128,0.6)(-126,1.35)(-124,0.3)(-123,0.75)(-121,1.1)(-119,0.5)(-118,1.5)(-116,0.2)(-114,1.25)(-112,1.49)(-111,0.85)(-109,1.2)(-107,0.6)(-105,1.3)(-104,1.21)(-102,1.4)(-100,1.25)(-99,1.49)(-97,2.2)(-97,2.0)(-95,1.76)
(-496,0.7)(-490,1.0)(-484,0.3)(-478,0.6)(-472,1.05)(-466,0.15)(-460,0.85)(-454,0.45)(-448,1.15)(-442,0.5)(-436,0.2)(-430,0.75)(-424,1.1)(-418,0.4)(-412,0.95)(-406,0.15)(-400,0.65)(-394,0.3)(-388,1.2)(-382,0.5)(-376,0.2)(-370,0.95)(-364,0.6)(-358,0.25)(-351,1.0)(-345,0.4)(-339,1.1)(-333,0.25)(-327,0.85)(-320,0.45)(-314,1.05)(-308,0.2)(-302,0.95)(-295,0.45)(-289,1.2)(-283,0.35)(-277,0.75)(-271,0.15)(-265,0.45)(-258,0.85)(-250,0.4)(-243,0.7)(-237,0.2)(-230,0.5)(-224,1.05)(-218,0.3)(-212,0.7)(-206,0.15)(-199,0.8)(-192,0.25)(-187,1.05)(-182,0.6)(-177,1.35)(-172,0.25)(-167,0.9)(-162,0.5)(-157,0.8)(-152,0.2)(-145,1.1)(-137,0.45)(-132,0.85)(-127,0.25)(-122,0.55)(-117,0.9)(-113,0.4)
(-155,0.3)(-150,0.6)(-145,0.2)(-140,0.5)(-135,0.15)(-130,0.45)(-125,0.8)(-120,0.25)(-112,0.94)(-110,1.2)(-103,1.35)(-97,1.7)(-97,2.05)(-94,1.49)(-81,0.18)(-77,0.32)(-73,0.94)(-64,0.87)(-61,1.21)(-62,1.55)(-51,0.66)(-49,1.08)(-47,1.42)(-40,1.55)(-38,0.46)(-36,0.94)(-31,1.28)(-29,0.53)(-25,0.87)(-23,1.49)(-17,1.08)(-40,2.11)(-39,2.32)(-25,2.01)(-18,3.26)(-1,4.04)(-2,0.87)(1,0.32)(4,0.38)(12,2.11)(14,2.22)(23,2.39)(21,3.19)(30,0.11)(25,0.38)(28,0.66)(32,0.87)(36,1.08)(38,0.87)(45,0.59)(47,1.01)(49,1.21)(56,0.94)(58,1.21)(60,1.42)(62,1.63)(65,1.84)(67,2.04)(70,2.74)(80,1.32)(82,2.04)(93,0.42)(95,0.8)(97,1.28)(106,1.42)(88,1.19)(93,1.12)(97,1.33)
(105,0.3)(107,0.9)(108,0.1)(110,0.6)(112,1.1)(113,0.35)(114,2.13)(115,0.75)(117,0.05)(118,0.5)(120,1.0)(122,0.2)(123,0.65)(125,0.9)(127,0.1)(128,0.45)(130,0.8)(132,0.25)(133,1.05)(135,0.55)(137,0.0)(138,0.7)(140,0.35)(141,1.63)(142,0.9)(144,0.15)(145,0.6)(147,0.3)(149,1.0)(150,0.5)(152,0.05)(154,1.32)(155,0.75)(157,0.2)(158,0.95)(160,0.4)(162,0.65)(163,0.1)(165,0.85)(167,0.3)(168,1.15)(170,0.55)(172,0.0)(173,0.7)(175,0.25)(177,0.9)(178,0.45)(180,1.1)(182,0.15)(184,1.35)(185,0.6)(187,0.3)(188,0.85)(190,0.05)(192,0.5)(193,1.0)(195,0.2)(197,1.46)(198,0.7)(200,0.4)(202,0.95)(203,0.1)(205,0.6)(207,1.2)(208,0.3)(210,0.75)(212,0.0)(213,0.5)(215,0.9)(217,0.25)(218,0.65)(220,1.05)(222,0.15)(223,0.55)(225,0.85)(227,0.35)(228,0.05)(230,0.7)(232,1.1)(233,0.4)(235,0.2)(237,0.8)(238,0.5)(240,1.2)(242,0.1)(243,0.6)(245,0.95)(247,0.3)(248,0.7)(250,0.0)(252,0.45)(253,1.94)(255,0.85)(257,0.2)(258,1.0)(260,0.55)(262,0.1)(263,0.75)(265,0.35)(267,1.15)(268,0.6)(270,0.05)(271,1.43)(273,0.5)(275,0.9)(277,0.25)(278,0.65)(280,0.1)(282,1.05)(283,0.4)(285,0.8)(287,0.2)(288,0.55)(290,0.95)(292,0.3)(293,0.7)(295,0.0)(297,0.5)(298,1.15)(300,2.17)(300,0.35)(302,0.85)(303,0.15)(305,0.6)(307,1.84)(307,1.0)(308,0.4)(310,0.75)(312,0.05)(313,0.55)(315,1.2)(317,0.3)(318,0.9)(320,0.2)(322,0.65)(323,1.05)(325,0.45)(327,0.1)(328,0.8)(330,0.35)(332,1.1)(333,0.6)(335,0.0)(337,1.46)(337,0.7)(338,0.25)(340,0.95)(342,0.5)(343,0.15)(345,0.85)(347,0.4)(348,1.2)(350,0.6)(352,0.05)(353,0.75)(355,0.3)(357,1.0)(358,0.5)(360,0.2)(362,0.9)(363,0.45)(365,1.15)(367,0.1)(368,0.65)(370,0.35)(372,0.85)(373,0.0)(375,0.55)(377,1.0)(378,0.25)(380,0.7)(382,0.4)(384,0.9)(386,0.15)(388,0.6)(392,0.3)(396,0.8)(400,0.45)(402,1.84)(403,0.1)(405,0.7)(407,0.35)(408,1.0)(410,0.55)(411,2.25)(412,0.05)(413,0.85)(415,0.4)(417,1.2)(418,0.6)(420,0.2)(422,0.95)(423,0.45)(425,2.2)(425,0.75)(427,0.1)(428,1.05)(430,0.5)(432,0.3)(433,1.6)(434,0.85)(435,0.15)(437,1.74)(437,0.6)(438,1.0)(440,0.35)(442,0.7)(443,0.05)(445,0.9)(447,0.45)(448,1.94)(448,1.2)(450,0.6)(452,0.25)(453,0.8)(455,0.0)(457,0.55)(458,1.0)(460,0.3)(462,0.75)(463,0.15)(464,1.46)(465,0.9)(467,0.4)(468,1.1)(470,0.6)(472,0.05)(473,0.8)(475,0.35)(477,1.0)(478,0.5)(480,0.2)(482,0.95)(483,1.87)(483,0.6)(485,0.1)(487,2.13)(487,0.85)(488,0.4)(490,1.2)(492,2.18)(492,0.7)(493,0.3)(494,1.74)(495,1.0)(497,0.5)(498,0.15)(500,1.57)(500,0.8)
(106,0.55)(111,0.3)(116,1.2)(121,0.45)(126,1.3)(131,0.6)(136,0.3)(139,1.15)(146,0.85)(151,0.25)(156,1.1)(161,0.5)(166,0.2)(171,1.0)(176,0.6)(181,0.85)(186,0.3)(191,1.2)(196,0.55)(201,0.25)(206,0.95)(211,0.5)(216,1.25)(221,0.4)(226,0.95)(231,0.2)(236,1.0)(241,0.35)(246,0.65)(251,1.05)(256,0.2)(261,0.9)(266,0.5)(272,0.85)(276,1.2)(281,0.45)(286,0.15)(291,0.65)(296,1.1)(301,0.3)(306,0.85)(311,1.3)(316,0.6)(321,0.4)(326,1.2)(331,0.15)(336,0.55)(341,1.25)(346,0.2)(351,0.95)(356,0.55)(361,1.3)(366,0.25)(371,0.6)(376,0.15)(381,1.1)(387,0.75)(394,0.55)(398,1.0)(404,0.25)(409,0.85)(414,1.1)(419,0.3)(424,1.3)(429,0.2)(436,0.45)(441,1.2)(446,0.25)(451,1.05)(456,0.4)(461,1.15)(466,0.25)(471,0.85)(476,1.25)(481,0.45)(486,0.75)(491,0.1)(496,0.95)};
\addplot[rpts] coordinates {(-26,2.2)(-21,2.2)(-14,2.18)(-7,2.18)(-1,2.18)(5,2.18)(10,2.18)(-25,2.35)(28,2.11)(45,2.11)(49,2.04)(68,2.11)(1,2.57)(43,2.8)(60,2.66)(-28,3.2)(-25,3.18)(-18,3.21)(-12,3.21)(-7,3.21)(-3,3.21)(1,3.21)(8,3.21)(12,3.21)(18,3.1)(20,3.3)(23,3.15)(26,3.45)(28,3.3)(32,3.3)(12,3.7)(28,4.0)(46,4.14)(-27,2.33)(-18,2.18)(41,2.74)(43,2.12)(47,2.05)(67,2.08)(60,2.67)(25,2.53)(28,2.81)(30,3.29)(16,2.67)(4,2.2)};
\end{axis}
% ================= TEXT =================
\begin{scope}[x=0.5pt, y=-0.5pt, yshift=725pt]
\begin{scope}[every node/.style={inner sep=0pt, font=\fs{9.15pt}}]
\node[anchor=base west] at (75,26.7) {A) PDGFB (ASN)};
\node[anchor=base west] at (75,346.7) {B) SYNGR1 (ASN)};
\node[anchor=base west] at (75,786) {C) ACTR5 (YRI)};
\node[anchor=base west] at (75,1106) {D) WDR4 (YRI)};
\node[anchor=base, text=gexp] at (680,49.3) {Gene Expression};
\node[anchor=base, text=gexp] at (680,369.3) {Gene Expression};
\node[anchor=base, text=gexp] at (680,807.3) {Gene Expression};
\node[anchor=base, text=gexp] at (680,1128.3) {Gene Expression};
\node[anchor=base, text=ihs] at (680,275) {Selection};
\node[anchor=base, text=ihs] at (680,595) {Selection};
\node[anchor=base, text=ihs] at (680,1045.7) {Selection};
\node[anchor=base, text=ihs] at (680,1365) {Selection};
\end{scope}
\begin{scope}[every node/.style={inner sep=0pt, font=\fs{9.8pt}}]
\node[rotate=90] at (22,103) {−log(p−value)};
\node[rotate=90] at (22,424) {−log(p−value)};
\node[rotate=90] at (22,862.3) {−log(p−value)};
\node[rotate=90] at (22,1182.3) {−log(p−value)};
\node[rotate=90] at (22,235.8) {|iHS|};
\node[rotate=90] at (22,555.8) {|iHS|};
\node[rotate=90] at (22,983) {|iHS|};
\node[rotate=90] at (22,1300) {|iHS|};
\node[anchor=base] at (489,688.3) {Distance from Transcription Start Site (Kb)};
\node[anchor=base] at (489,1446) {Distance from Transcription Start Site (Kb)};
\end{scope}
\end{scope}
\pgfresetboundingbox
\useasboundingbox (0,0) rectangle (448pt,725pt);
\end{tikzpicture}
\end{document}
